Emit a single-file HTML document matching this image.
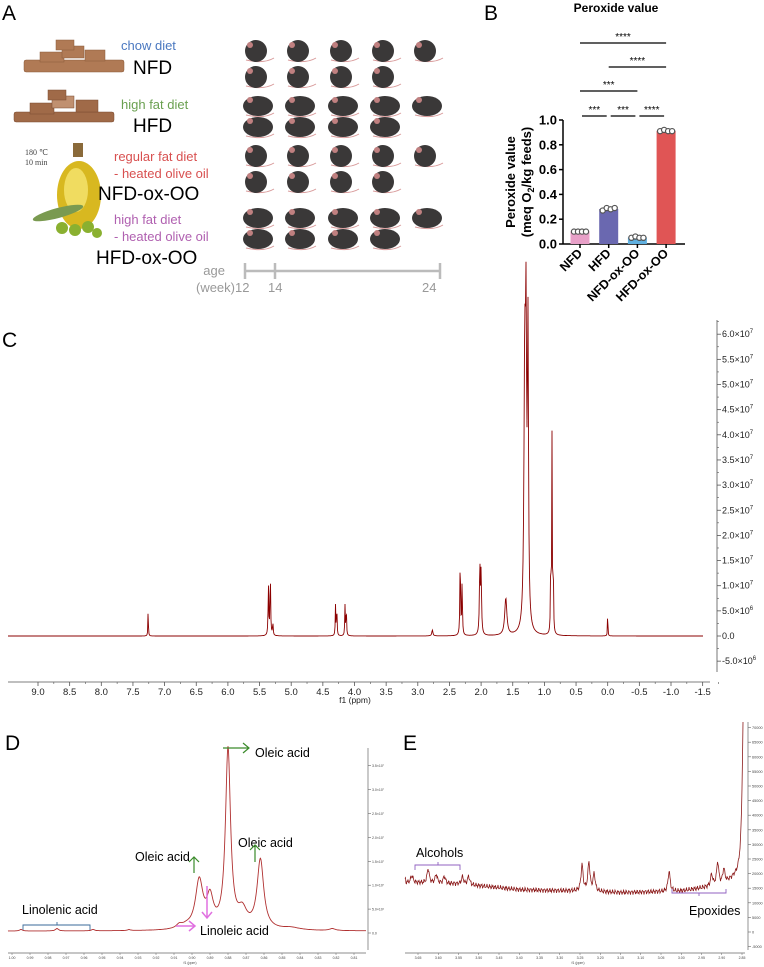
<!DOCTYPE html>
<html><head><meta charset="utf-8"><style>
body{margin:0;background:#fff;width:764px;height:967px;overflow:hidden;font-family:"Liberation Sans",sans-serif}
svg{position:absolute;left:0;top:0}
</style></head><body>
<svg id="fig" width="764" height="967" viewBox="0 0 764 967" xmlns="http://www.w3.org/2000/svg" font-family="Liberation Sans, sans-serif">
<g id="pA">
<text x="2" y="20" font-size="21">A</text>
<g fill="#b07a55" stroke="#8a5a3a" stroke-width="0.5">
<rect x="24" y="60" width="100" height="12" rx="2"/><rect x="40" y="52" width="24" height="10"/><rect x="62" y="46" width="22" height="12"/><rect x="85" y="50" width="20" height="11"/><rect x="56" y="40" width="18" height="10"/></g>
<text x="121" y="50" font-size="13" fill="#4a78c0">chow diet</text>
<text x="133" y="74" font-size="19">NFD</text>
<g fill="#a06a48" stroke="#7a4a30" stroke-width="0.5">
<rect x="14" y="112" width="100" height="10" rx="2"/><rect x="30" y="103" width="24" height="11"/><rect x="52" y="96" width="22" height="12" fill="#c09070"/><rect x="76" y="100" width="22" height="12"/><rect x="48" y="90" width="18" height="10"/></g>
<text x="121" y="109" font-size="13" fill="#6aa050">high fat diet</text>
<text x="133" y="132" font-size="19">HFD</text>
<text x="25" y="155" font-size="8" font-family="Liberation Serif, serif" fill="#444">180 ℃</text>
<text x="25" y="165" font-size="8" font-family="Liberation Serif, serif" fill="#444">10 min</text>
<g>
<rect x="73" y="143" width="10" height="14" fill="#8a6a3a"/>
<ellipse cx="79" cy="195" rx="22" ry="34" fill="#d8b820"/><ellipse cx="76" cy="190" rx="12" ry="22" fill="#f0dc60"/>
<ellipse cx="58" cy="213" rx="26" ry="5" fill="#7a9a50" transform="rotate(-15 58 213)"/>
<circle cx="62" cy="228" r="6" fill="#8ab030"/><circle cx="75" cy="230" r="6" fill="#8ab030"/><circle cx="88" cy="227" r="6" fill="#8ab030"/><circle cx="97" cy="233" r="5" fill="#8ab030"/></g>
<text x="114" y="161" font-size="13" fill="#d85050">regular fat diet</text>
<text x="114" y="178" font-size="13" fill="#d85050">- heated olive oil</text>
<text x="98" y="200" font-size="19">NFD-ox-OO</text>
<text x="114" y="224" font-size="13" fill="#b060b0">high fat diet</text>
<text x="114" y="241" font-size="13" fill="#b060b0">- heated olive oil</text>
<text x="96" y="264" font-size="19">HFD-ox-OO</text>
<g id="mice"></g>
<g stroke="#bbb" stroke-width="2.5">
<line x1="245" y1="271" x2="440" y2="271"/><line x1="245" y1="263" x2="245" y2="279"/><line x1="275" y1="263" x2="275" y2="279"/><line x1="440" y1="263" x2="440" y2="279"/></g>
<g font-size="13" fill="#999">
<text x="225" y="275" text-anchor="end">age</text><text x="235" y="292" text-anchor="end">(week)</text>
<text x="235" y="292">12</text><text x="268" y="292">14</text><text x="422" y="292">24</text></g>
</g>
<g id="pB">
<text x="484" y="20" font-size="21">B</text>
<text x="616" y="12" font-size="12" font-weight="bold" text-anchor="middle">Peroxide value</text>
<g id="bchart"></g>
</g>
<g id="pC">
<text x="2" y="347" font-size="21">C</text>
<g id="cchart"></g>
</g>
<g id="pD">
<text x="5" y="750" font-size="21">D</text>
<g id="dchart"></g>
</g>
<g id="pE">
<text x="403" y="750" font-size="21">E</text>
<g id="echart"></g>
</g>
</svg>
<script>
// ---- Panel B data ----
const bCategories = ["NFD","HFD","NFD-ox-OO","HFD-ox-OO"];
const bPoints = [[0.10,0.10,0.10,0.10],[0.27,0.29,0.28,0.29],[0.05,0.06,0.05,0.05],[0.91,0.92,0.91,0.91]];
const bColors = ["#e8a0c8","#6a68b0","#60b0e0","#e05555"];
const bTicks = [0,0.2,0.4,0.6,0.8,1.0];
const bSig = [[0,3,"****"],[1,3,"****"],[0,2,"***"],[0,1,"***"],[1,2,"***"],[2,3,"****"]];
const bSigLevel = [4,3,2,1,1,1];
// ---- Panel C data (ppm, height in units of 1e7, half-width ppm) ----
const cPpm =   [7.26,5.36,5.33,5.29,4.30,4.28,4.15,4.13,2.77,2.33,2.30,2.02,2.00,1.61,1.31,1.29,1.26,0.90,0.88,0.86,0.00];
const cHeight= [0.58,1.0,1.25,0.25,0.6,0.62,0.6,0.6,0.12,1.6,1.05,1.35,1.2,0.74,5.3,4.9,5.9,1.5,3.9,1.4,0.72];
const cWidth = [0.004,0.006,0.006,0.006,0.005,0.005,0.005,0.005,0.01,0.006,0.006,0.008,0.008,0.02,0.015,0.01,0.01,0.005,0.005,0.005,0.003];
const cYTicks = [-0.5,0,0.5,1,1.5,2,2.5,3,3.5,4,4.5,5,5.5,6];
const cXTicks = [9,8.5,8,7.5,7,6.5,6,5.5,5,4.5,4,3.5,3,2.5,2,1.5,1,0.5,0,-0.5,-1,-1.5];
// ---- Panel D data ----
const dPpm =    [0.995,0.975,0.955,0.935,0.907,0.903,0.896,0.890,0.880,0.872,0.862,0.845,0.822];
const dHeight = [0.03,0.05,0.03,0.02,0.08,0.05,1.0,0.6,3.75,0.35,1.45,0.05,0.04];
const dWidth =  [0.001,0.001,0.001,0.001,0.002,0.003,0.0025,0.0022,0.0017,0.003,0.0022,0.006,0.002];
const dXTicks = [1.00,0.99,0.98,0.97,0.96,0.95,0.94,0.93,0.92,0.91,0.90,0.89,0.88,0.87,0.86,0.85,0.84,0.83,0.82,0.81];
const dYTicks = [0,0.5,1,1.5,2,2.5,3,3.5];
// ---- Panel E data ----
const eBasePpm = [3.68,3.55,3.40,3.25,3.15,3.00,2.90,2.87];
const eBaseVal = [17000,16500,14500,14000,13500,14000,16000,18000];
const ePeakPpm = [3.665,3.625,3.605,3.585,3.54,3.525,3.245,3.228,3.215,3.03,2.925,2.91,2.895];
const ePeakVal = [2500,5000,3000,2500,2500,3000,9000,10000,6000,7000,4000,8000,5000];
const eYTicks = [-5000,0,5000,10000,15000,20000,25000,30000,35000,40000,45000,50000,55000,60000,65000,70000];
const eXTicks = [3.65,3.60,3.55,3.50,3.45,3.40,3.35,3.30,3.25,3.20,3.15,3.10,3.05,3.00,2.95,2.90,2.85];

const NS="http://www.w3.org/2000/svg";
function mk(parent,tag,attrs,text){const e=document.createElementNS(NS,tag);for(const k in attrs)e.setAttribute(k,attrs[k]);if(text!==undefined)e.textContent=text;parent.appendChild(e);return e;}

// mice
(function(){
  const g=document.getElementById('mice');
  const cols=[258,300,343,385,427];
  const rows=[[50,5],[76,4],[105,5],[126,4],[155,5],[181,4],[217,5],[238,4]];
  rows.forEach(([y,n],ri)=>{for(let i=0;i<n;i++){
    const m=mk(g,'g',{});
    
    
    const fat=(ri===2||ri===3||ri===6||ri===7);
    mk(m,'path',{d:`M${cols[i]-12} ${y+10} Q${cols[i]+6} ${y+14} ${cols[i]+16} ${y+8}`,stroke:'#d89a9a',fill:'none','stroke-width':1});
    mk(m,'ellipse',{cx:cols[i]+(fat?0:-2),cy:y+1,rx:fat?15:11,ry:fat?10:11,fill:'#3a3838'});
    mk(m,'circle',{cx:cols[i]-8,cy:y-5,r:3,fill:'#c08080'});
  }});
})();

// Panel B
(function(){
  const g=document.getElementById('bchart');
  const x0=563,x1=685,yb=244,yt=120;
  const y=v=>yb-(v)*(yb-yt);
  const bx=i=>580+i*28.7;
  mk(g,'line',{x1:x0,y1:yt,x2:x0,y2:yb,stroke:'#000','stroke-width':1.5});
  mk(g,'line',{x1:x0,y1:yb,x2:x1,y2:yb,stroke:'#000','stroke-width':1.5});
  bTicks.forEach(t=>{
    mk(g,'line',{x1:x0-4,y1:y(t),x2:x0,y2:y(t),stroke:'#000','stroke-width':1.5});
    const tx=mk(g,'text',{x:x0-6,y:y(t)+4.5,'font-size':13,'font-weight':'bold','text-anchor':'end'},t.toFixed(1));
    
    
  });
  const yl=mk(g,'text',{transform:'translate(515,182) rotate(-90)','font-size':13,'font-weight':'bold','text-anchor':'middle'},'Peroxide value');
  
  
  const yl2=mk(g,'text',{transform:'translate(531,182) rotate(-90)','font-size':13,'font-weight':'bold','text-anchor':'middle'});
  yl2.innerHTML='(meq O<tspan font-size="9" dy="3">2</tspan><tspan dy="-3">/kg feeds)</tspan>';
  
  
  bCategories.forEach((c,i)=>{
    const mean=bPoints[i].reduce((a,b)=>a+b,0)/bPoints[i].length;
    const r=mk(g,'rect',{x:bx(i)-9.5,y:y(mean),width:19,height:yb-y(mean),fill:bColors[i]});
    
    
    bPoints[i].forEach((v,j)=>{
      const p=mk(g,'circle',{cx:bx(i)-6+j*4,cy:y(v),r:2.6,fill:'#fff',stroke:'#555','stroke-width':1.2});
      
      
    });
    mk(g,'line',{x1:bx(i),y1:yb,x2:bx(i),y2:yb+4,stroke:'#000','stroke-width':1.5});
    const t=mk(g,'text',{transform:`translate(${bx(i)+3},${yb+10}) rotate(-45)`,'font-size':12.5,'font-weight':'bold','text-anchor':'end'},c);
    
    
  });
  const lvlY=[0,116,91,67,43];
  bSig.forEach(([a,b,s],k)=>{
    const ly=lvlY[bSigLevel[k]];
    const off=bSigLevel[k]===1?2:0;
    const l=mk(g,'line',{x1:bx(a)+off,y1:ly,x2:bx(b)-off,y2:ly,stroke:'#000','stroke-width':1.2});
    
    
    const t=mk(g,'text',{x:(bx(a)+bx(b))/2,y:ly-3,'font-size':10,'text-anchor':'middle'},s);
    
    
  });
})();

function lor(x,c,h,w){return h*w*w/((x-c)*(x-c)+w*w);}

// Panel C
(function(){
  const g=document.getElementById('cchart');
  const X=p=>38+(9-p)*63.3, Y=v=>636-v*50.3;
  const pts=[];
  for(let px=8;px<=703;px+=0.5){
    const p=9-(px-38)/63.3;let v=0;
    for(let i=0;i<cPpm.length;i++)v+=lor(p,cPpm[i],cHeight[i],cWidth[i]);
    pts.push(px.toFixed(1)+','+Y(v).toFixed(1));
  }
  const s=mk(g,'polyline',{points:pts.join(' '),fill:'none',stroke:'#8b0000','stroke-width':0.9});
  
  
  mk(g,'line',{x1:717,y1:320,x2:717,y2:672,stroke:'#555','stroke-width':0.8});
  cYTicks.forEach(t=>{
    mk(g,'line',{x1:717,y1:Y(t),x2:721,y2:Y(t),stroke:'#555','stroke-width':0.8});
    mk(g,'line',{x1:717,y1:Y(t+0.25),x2:719,y2:Y(t+0.25),stroke:'#555','stroke-width':0.6});
    let lbl;
    if(t===0)lbl='0.0';else if(Math.abs(t)<1)lbl=(t<0?'-':'')+'5.0×10<tspan font-size="6" dy="-4">6</tspan>';
    else lbl=t.toFixed(1)+'×10<tspan font-size="6" dy="-4">7</tspan>';
    const tx=mk(g,'text',{x:722,y:Y(t)+3,'font-size':9,fill:'#222'});
    tx.innerHTML=lbl;
    
    
  });
  mk(g,'line',{x1:8,y1:682,x2:710,y2:682,stroke:'#555','stroke-width':0.8});
  cXTicks.forEach(t=>{
    mk(g,'line',{x1:X(t),y1:682,x2:X(t),y2:686,stroke:'#555','stroke-width':0.8});
    mk(g,'line',{x1:X(t-0.25),y1:682,x2:X(t-0.25),y2:684,stroke:'#555','stroke-width':0.6});
    const tx=mk(g,'text',{x:X(t),y:695,'font-size':9.5,'text-anchor':'middle',fill:'#222'},t.toFixed(1));
    
    
  });
  const xl=mk(g,'text',{x:355,y:703,'font-size':8.5,'text-anchor':'middle',fill:'#222'},'f1 (ppm)');
  
  
})();

// Panel D
(function(){
  const g=document.getElementById('dchart');
  const X=p=>12+(1.00-p)*1800, Y=v=>933-v*47.8;
  const pts=[];
  for(let px=8;px<=366;px+=0.5){
    const p=1.00-(px-12)/1800;let v=0.04;
    for(let i=0;i<dPpm.length;i++)v+=lor(p,dPpm[i],dHeight[i],dWidth[i]);
    pts.push(px.toFixed(1)+','+Y(v).toFixed(1));
  }
  const s=mk(g,'polyline',{points:pts.join(' '),fill:'none',stroke:'#b03030','stroke-width':0.9});
  
  
  mk(g,'line',{x1:368,y1:748,x2:368,y2:950,stroke:'#666','stroke-width':0.7});
  dYTicks.forEach(t=>{
    mk(g,'line',{x1:368,y1:Y(t),x2:371,y2:Y(t),stroke:'#666','stroke-width':0.6});
    const tx=mk(g,'text',{x:372,y:Y(t)+1.5,'font-size':3.5,fill:'#444'},t===0?'0.0':(t<1?'5.0×10⁶':t.toFixed(1)+'×10⁷'));
    
    
  });
  mk(g,'line',{x1:8,y1:953,x2:366,y2:953,stroke:'#666','stroke-width':0.7});
  dXTicks.forEach(t=>{
    mk(g,'line',{x1:X(t),y1:953,x2:X(t),y2:955,stroke:'#666','stroke-width':0.5});
    const tx=mk(g,'text',{x:X(t),y:959,'font-size':3.5,'text-anchor':'middle',fill:'#444'},t.toFixed(2));
    
    
  });
  mk(g,'text',{x:190,y:964,'font-size':3.5,'text-anchor':'middle',fill:'#444'},'f1 (ppm)');
  const ann=[[255,757,'Oleic acid'],[135,861,'Oleic acid'],[238,847,'Oleic acid'],[200,935,'Linoleic acid'],[22,914,'Linolenic acid']];
  ann.forEach(a=>{const t=mk(g,'text',{x:a[0],y:a[1],'font-size':12.5},a[2]);});
  const gr='#3a8a2a',pk='#e070e0';
  [[223,748,249,748],[194,873,194,857],[255,862,255,845]].forEach(l=>{
    mk(g,'line',{x1:l[0],y1:l[1],x2:l[2],y2:l[3],stroke:gr,'stroke-width':1.2});
  });
  mk(g,'path',{d:'M243 743 L249 748 L243 753 M189 862 L194 857 L199 862 M250 850 L255 845 L260 850',stroke:gr,fill:'none','stroke-width':1.2});
  mk(g,'path',{d:'M207 886 L207 918 M202 912 L207 918 L212 912 M176 926 L195 926 M189 921 L195 926 L189 931',stroke:pk,fill:'none','stroke-width':1.5});
  mk(g,'path',{d:'M23 930 L23 925 L90 925 L90 930 M57 925 L57 922',stroke:'#3a6a9a',fill:'none','stroke-width':0.9});
})();

// Panel E
(function(){
  const g=document.getElementById('echart');
  const X=p=>418+(3.65-p)*405, Y=v=>932-v*0.00292;
  function base(p){for(let i=0;i<eBasePpm.length-1;i++){if(p<=eBasePpm[i]&&p>=eBasePpm[i+1]){const f=(eBasePpm[i]-p)/(eBasePpm[i]-eBasePpm[i+1]);return eBaseVal[i]+f*(eBaseVal[i+1]-eBaseVal[i]);}}return eBaseVal[eBaseVal.length-1];}
  const pts=[];
  for(let px=405;px<=743;px+=0.5){
    const p=3.65-(px-418)/405;let v=base(p);
    for(let i=0;i<ePeakPpm.length;i++)v+=lor(p,ePeakPpm[i],ePeakVal[i],0.003);
    v+=lor(p,2.845,80000,0.004);
    v+=550*Math.sin(px*2.3)+350*Math.sin(px*5.1); // texture
    pts.push(px.toFixed(1)+','+Math.max(722,Y(v)).toFixed(1));
  }
  const s=mk(g,'polyline',{points:pts.join(' '),fill:'none',stroke:'#8b1a1a','stroke-width':0.8});
  
  
  mk(g,'line',{x1:748,y1:722,x2:748,y2:950,stroke:'#666','stroke-width':0.7});
  eYTicks.forEach(t=>{
    mk(g,'line',{x1:748,y1:Y(t),x2:751,y2:Y(t),stroke:'#666','stroke-width':0.6});
    const tx=mk(g,'text',{x:752,y:Y(t)+1.5,'font-size':3.8,fill:'#444'},String(t));
    
    
  });
  mk(g,'line',{x1:405,y1:953,x2:745,y2:953,stroke:'#666','stroke-width':0.7});
  eXTicks.forEach(t=>{
    mk(g,'line',{x1:X(t),y1:953,x2:X(t),y2:955,stroke:'#666','stroke-width':0.5});
    const tx=mk(g,'text',{x:X(t),y:959,'font-size':3.5,'text-anchor':'middle',fill:'#444'},t.toFixed(2));
    
    
  });
  mk(g,'text',{x:578,y:964,'font-size':3.5,'text-anchor':'middle',fill:'#444'},'f1 (ppm)');
  const a1=mk(g,'text',{x:416,y:857,'font-size':12.5},'Alcohols');
  const a2=mk(g,'text',{x:689,y:915,'font-size':12.5},'Epoxides');
  mk(g,'path',{d:'M415 870 L415 865 L460 865 L460 870 M438 865 L438 862',stroke:'#9060c0',fill:'none','stroke-width':0.9});
  mk(g,'path',{d:'M672 889 L672 893 L726 893 L726 889 M699 893 L699 896',stroke:'#9060c0',fill:'none','stroke-width':0.9});
})();
</script>
</body></html>
